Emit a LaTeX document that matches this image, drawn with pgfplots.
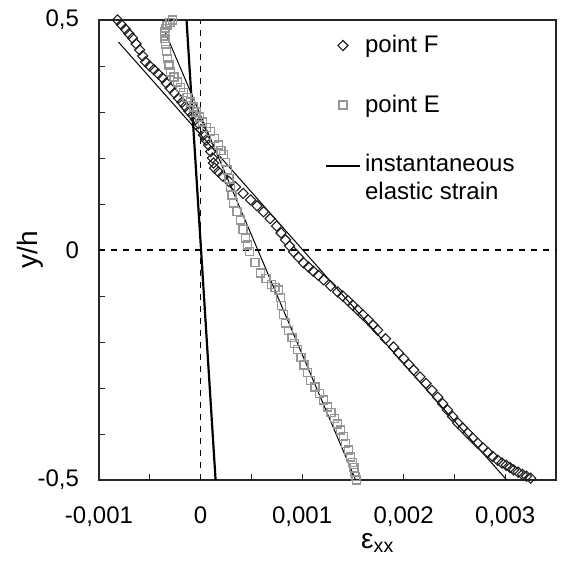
\documentclass[border=0pt]{standalone}
\usepackage{pgfplots}
\pgfplotsset{compat=1.18}
\usepackage{fontspec}
\setmainfont{Liberation Sans}
\definecolor{fcol}{RGB}{30,30,30}
\definecolor{ecol}{RGB}{150,150,150}
\pgfplotsset{elasticlegend/.style={legend image code/.code={\draw[##1] (0cm,6.25pt) -- (0.6cm,6.25pt);}}}
\begin{document}
\begin{tikzpicture}
\useasboundingbox (-49.5pt,-41.5pt) rectangle (231.5pt,240pt);
\begin{axis}[
  scale only axis,
  width=228.5pt, height=230pt,
  xmin=-0.001, xmax=0.0035, ymin=-0.5, ymax=0.5,
  clip=false,
  axis line style={black!85, line width=0.6pt},
  tick pos=left,
  tick align=inside,
  major tick length=3pt, minor tick length=3pt,
  every tick/.style={black!85, line width=0.5pt},
  xtick={-0.001,0,0.001,0.002,0.003},
  xticklabels={{-0,001},{0},{0,001},{0,002},{0,003}},
  minor xtick={-0.0005,0.0005,0.0015,0.0025},
  ytick={-0.5,0,0.5},
  yticklabels={{-0,5},{0},{0,5}},
  minor ytick={-0.4,-0.3,-0.2,-0.1,0.1,0.2,0.3,0.4},
  scaled x ticks=false, scaled y ticks=false,
  ticklabel style={font=\fontsize{12}{14}\selectfont},
  xticklabel style={yshift=-10pt},
  yticklabel style={xshift=-6.5pt},
  xlabel={ε\textsubscript{xx}},
  ylabel={y/h},
  xlabel style={font=\fontsize{14}{16}\selectfont, at={(axis description cs:0.61,-0.148)}, anchor=base},
  ylabel style={font=\fontsize{14}{16}\selectfont, at={(axis description cs:-0.151,0.5)}, anchor=center, rotate=0},
  legend style={at={(axis description cs:0.48,0.985)}, anchor=north west, draw=none, fill=none,
    font=\fontsize{12}{14}\selectfont, row sep=15.5pt, nodes={align=left}},
  legend cell align=left,
]
\addplot[forget plot, black, dashed, line width=0.6pt] coordinates {(0,-0.5) (0,0.5)};
\addplot[forget plot, black, dashed, line width=0.6pt] coordinates {(-0.001,0) (0.0035,0)};
\addplot[only marks, mark=square, mark size=1.8pt, mark options={rotate=45, draw=fcol, line width=0.55pt}] coordinates {
(-0.000818,0.500) (-0.000740,0.480) (-0.000670,0.461) (-0.000600,0.435) (-0.000542,0.409)
(-0.000460,0.392) (-0.000374,0.374) (-0.000300,0.352) (-0.000217,0.330) (-0.000150,0.312)
(-0.000079,0.293) (-0.000020,0.275) (0.000030,0.250) (0.000079,0.228) (0.000118,0.200)
(0.000138,0.178) (0.000217,0.161) (0.000345,0.137) (0.000493,0.109) (0.000620,0.083)
(0.000749,0.052) (0.000837,0.022) (0.000916,-0.004) (0.001015,-0.028) (0.001110,-0.046)
(0.001212,-0.065) (0.001350,-0.091) (0.001450,-0.110) (0.001547,-0.130) (0.001650,-0.152)
(0.001744,-0.174) (0.001900,-0.211) (0.002000,-0.236) (0.002099,-0.261) (0.002220,-0.290)
(0.002335,-0.320) (0.002432,-0.348) (0.002532,-0.376) (0.002630,-0.398) (0.002729,-0.420)
(0.002830,-0.440) (0.002926,-0.457) (0.003010,-0.468) (0.003084,-0.478) (0.003170,-0.488)
(0.003251,-0.496)
(-0.000780,0.490) (-0.000705,0.470) (-0.000635,0.448) (-0.000570,0.422) (-0.000500,0.400)
(-0.000417,0.383) (-0.000337,0.363) (-0.000258,0.341) (-0.000183,0.321) (-0.000115,0.302)
(-0.000050,0.284) (0.000005,0.262) (0.000055,0.239) (0.000100,0.214) (0.000128,0.189)
(0.000175,0.170) (0.000280,0.149) (0.000420,0.123) (0.000556,0.096) (0.000685,0.068)
(0.000793,0.037) (0.000876,0.009) (0.000965,-0.016) (0.001063,-0.037) (0.001160,-0.055)
(0.001281,-0.078) (0.001400,-0.100) (0.001498,-0.120) (0.001598,-0.141) (0.001697,-0.163)
(0.001822,-0.193) (0.001950,-0.224) (0.002050,-0.249) (0.002160,-0.276) (0.002278,-0.305)
(0.002384,-0.334) (0.002482,-0.362) (0.002581,-0.387) (0.002680,-0.409) (0.002780,-0.430)
(0.002878,-0.449) (0.002968,-0.463) (0.003047,-0.473) (0.003127,-0.483) (0.003210,-0.492)
};
\addlegendentry{point F}
\addplot[only marks, mark=square, mark size=2.0pt, mark options={draw=ecol, line width=0.65pt}] coordinates {
(-0.000276,0.500) (-0.000330,0.488) (-0.000355,0.474) (-0.000350,0.460) (-0.000345,0.446)
(-0.000325,0.417) (-0.000296,0.387) (-0.000227,0.365) (-0.000167,0.343) (-0.000099,0.322)
(-0.000039,0.300) (0.000020,0.278) (0.000099,0.257) (0.000177,0.228) (0.000227,0.207)
(0.000266,0.174) (0.000296,0.137) (0.000325,0.102) (0.000394,0.065) (0.000443,0.026)
(0.000483,-0.004) (0.000591,-0.050) (0.000700,-0.075) (0.000768,-0.087) (0.000800,-0.120)
(0.000837,-0.159) (0.000900,-0.190) (0.000956,-0.217) (0.001020,-0.250) (0.001084,-0.283)
(0.001170,-0.312) (0.001251,-0.341) (0.001320,-0.366) (0.001379,-0.391) (0.001430,-0.420)
(0.001478,-0.450) (0.001510,-0.473) (0.001527,-0.493) (0.001537,-0.500)
(-0.000300,0.494) (-0.000345,0.481) (-0.000353,0.467) (-0.000348,0.453) (-0.000335,0.431)
(-0.000310,0.402) (-0.000262,0.376) (-0.000197,0.354) (-0.000133,0.332) (-0.000069,0.311)
(-0.000010,0.289) (0.000060,0.267) (0.000138,0.242) (0.000202,0.217) (0.000247,0.190)
(0.000281,0.155) (0.000310,0.119) (0.000360,0.083) (0.000418,0.045) (0.000463,0.011)
(0.000537,-0.027) (0.000645,-0.062) (0.000734,-0.081) (0.000784,-0.103) (0.000818,-0.140)
(0.000868,-0.175) (0.000928,-0.204) (0.000988,-0.233) (0.001052,-0.266) (0.001127,-0.298)
(0.001210,-0.326) (0.001285,-0.354) (0.001350,-0.378) (0.001405,-0.405) (0.001454,-0.435)
(0.001494,-0.462) (0.001519,-0.483)
};
\addlegendentry{point E}
\addplot[black, line width=1.1pt, elasticlegend] coordinates {(-0.000138,0.5) (0.000148,-0.5)};
\addlegendentry{instantaneous\\elastic strain}
\addplot[forget plot, black, line width=0.5pt] coordinates {(-0.000808,0.452) (0.003015,-0.5)};
\addplot[forget plot, black, line width=0.5pt] coordinates {(-0.000345,0.472) (0.001527,-0.5)};
\end{axis}
\end{tikzpicture}
\end{document}
